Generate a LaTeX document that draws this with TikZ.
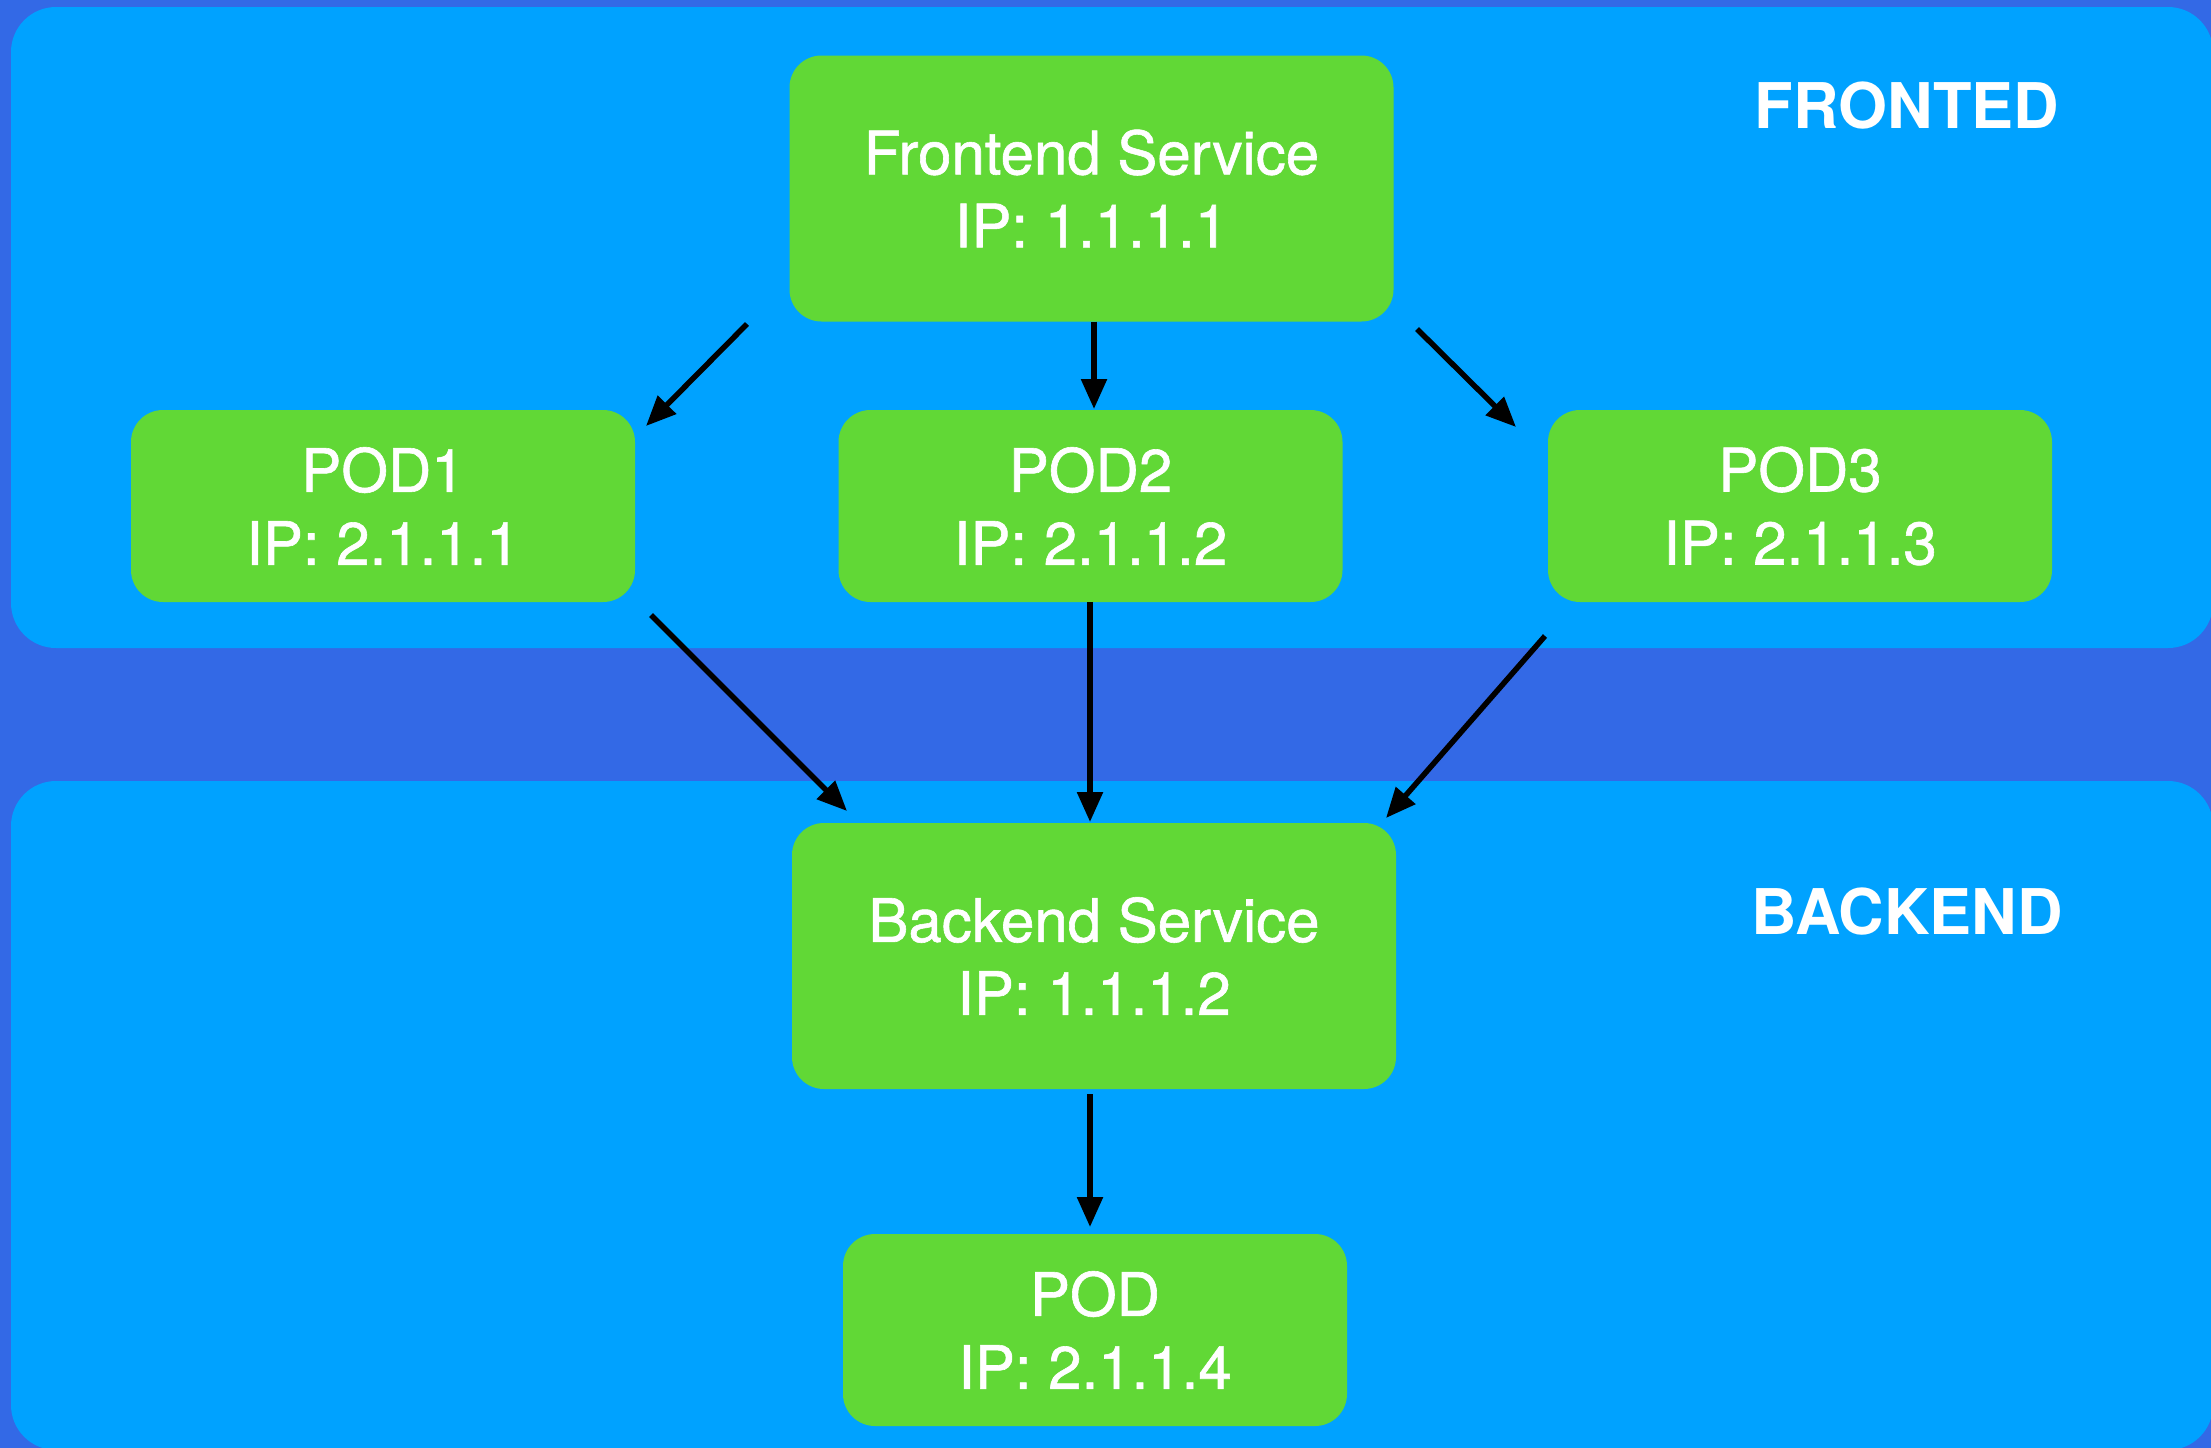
\documentclass[tikz,border=0pt]{standalone}
\usepackage{fontspec}
\setmainfont{TeX Gyre Heros}
\newfontfamily\boxfont[FakeBold=1]{TeX Gyre Heros}
\usetikzlibrary{arrows.meta}
\definecolor{bgblue}{HTML}{3369E6}
\definecolor{panelblue}{HTML}{00A2FF}
\definecolor{boxgreen}{HTML}{61D836}
\begin{document}
\begin{tikzpicture}[x=1pt,y=-1pt,
  panel/.style={fill=panelblue, draw=none, rounded corners=45pt},
  greenbox/.style={fill=boxgreen, draw=none, rounded corners=32pt, text=white,
    align=center, inner sep=0pt, font=\boxfont\fontsize{60}{73}\selectfont},
  podbox/.style={greenbox, minimum width=504pt, minimum height=192pt},
  svcbox/.style={greenbox, minimum width=604pt, minimum height=266pt},
  tierlabel/.style={text=white, inner sep=0pt, font=\fontsize{63}{70}\selectfont\bfseries},
  conn/.style={draw=black, line width=5.5pt, -{Triangle[length=30pt,width=25pt]}}]
\useasboundingbox (0,0) rectangle (2211,1448);
\clip (0,0) rectangle (2211,1448);
\fill[bgblue] (0,0) rectangle (2211,1448);
% panels
\path[panel] (11,7) rectangle (2213,648);
\path[panel] (11,781) rectangle (2213,1450);
% tier labels
\node[tierlabel] (lfront) at (1907,106) {FRONTED};
\node[tierlabel] (lback) at (1907,912) {BACKEND};
% nodes
\node[svcbox] (fs) at (1091.5,188.5) {Frontend Service\\IP: 1.1.1.1};
\node[podbox] (pod1) at (383,506) {POD1\\IP: 2.1.1.1};
\node[podbox] (pod2) at (1090.5,506) {POD2\\IP: 2.1.1.2};
\node[podbox] (pod3) at (1800,506) {POD3\\IP: 2.1.1.3};
\node[svcbox] (bs) at (1094,956) {Backend Service\\IP: 1.1.1.2};
\node[podbox] (pod) at (1095,1330) {POD\\IP: 2.1.1.4};
% connector end points
\coordinate (a1s) at (747,324);
\coordinate (a1e) at (646,426);
\coordinate (a3s) at (1417,329);
\coordinate (a3e) at (1516,427);
\coordinate (b1s) at (651,615);
\coordinate (b1e) at (847,811);
\coordinate (b3s) at (1545,636);
\coordinate (b3e) at (1386,818);
% connectors
\draw[conn] (a1s) -- (a1e);
\draw[conn] (fs.south -| 1094,0) -- (1094,409);
\draw[conn] (a3s) -- (a3e);
\draw[conn] (b1s) -- (b1e);
\draw[conn] (pod2.south -| 1090,0) -- (1090,822);
\draw[conn] (b3s) -- (b3e);
\draw[conn] (1090,1094) -- (1090,1227);
\end{tikzpicture}
\end{document}
